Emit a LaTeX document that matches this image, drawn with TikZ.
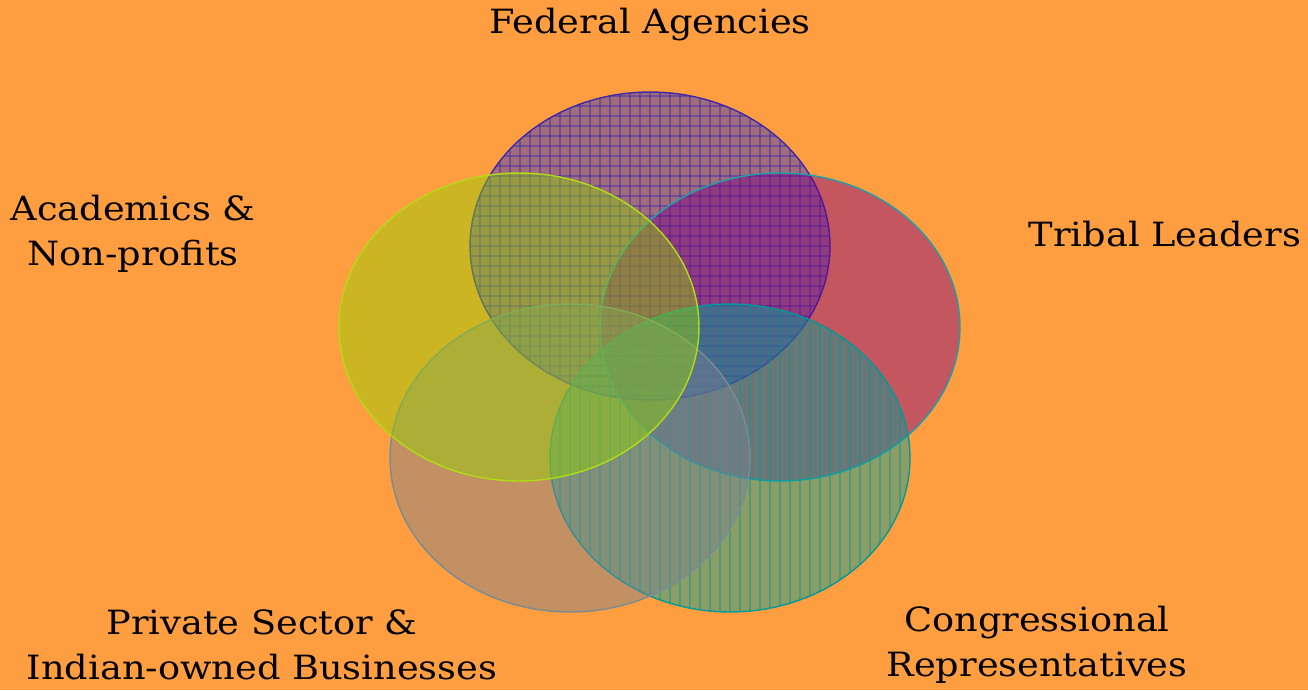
\documentclass[tikz,border=0pt]{standalone}
\usepackage{fontspec}
\setmainfont{DejaVu Serif}
\usetikzlibrary{shapes.geometric}
\definecolor{bgorange}{RGB}{255,158,64}
\definecolor{fedfill}{RGB}{50,51,195}
\definecolor{fedline}{RGB}{60,40,170}
\definecolor{acafill}{RGB}{144,211,0}
\definecolor{acaline}{RGB}{175,220,20}
\definecolor{trifill}{RGB}{122,0,133}
\definecolor{triline}{RGB}{30,160,170}
\definecolor{prifill}{RGB}{122,129,144}
\definecolor{priline}{RGB}{120,140,150}
\definecolor{confill}{RGB}{0,160,150}
\definecolor{conline}{RGB}{0,155,150}
\tikzset{
  venn/.style={ellipse, inner sep=0pt, minimum width=7.2cm, minimum height=6.16cm,
    fill opacity=0.45, draw opacity=1, line width=0.8pt},
  hatch/.style={line width=0.75pt, opacity=0.45},
  lbl/.style={font=\fontsize{19}{25.5}\selectfont, align=center, text=black, inner sep=0pt,
    xscale=1.1, transform shape},
}
\begin{document}
\begin{tikzpicture}[x=0.02cm, y=-0.02cm]
\fill[bgorange] (0,0) rectangle (1308,690);
\useasboundingbox (0,0) rectangle (1308,690);
\node[venn, fill=fedfill, draw=fedline,
  path picture={
    \foreach \k in {-18,...,18} {
      \draw[fedline, hatch] (path picture bounding box.center) ++(\k*10,-170) -- ++(0,340);
    }
    \foreach \k in {-16,...,16} {
      \draw[fedline, hatch] (path picture bounding box.center) ++(-190,\k*10) -- ++(380,0);
    }
  }] (fed) at (650,246) {};
\node[venn, fill=trifill, draw=triline] (tri) at (780,327) {};
\node[venn, fill=confill, draw=conline,
  path picture={
    \foreach \k in {-18,...,18} {
      \draw[conline, hatch] (path picture bounding box.center) ++(\k*10,-170) -- ++(0,340);
    }
  }] (con) at (730,458) {};
\node[venn, fill=prifill, draw=priline] (pri) at (570,458) {};
\node[venn, fill=acafill, draw=acaline] (aca) at (519,327) {};
\node[lbl] (tfed) at (650,25) {Federal Agencies};
\node[lbl] (taca) at (133,234) {Academics \&\\Non-profits};
\node[lbl] (ttri) at (1165,234) {Tribal Leaders};
\node[lbl] (tpri) at (262,645) {Private Sector \&\\Indian-owned Businesses};
\node[lbl] (tcon) at (1037,645) {Congressional\\Representatives};
\end{tikzpicture}
\end{document}
